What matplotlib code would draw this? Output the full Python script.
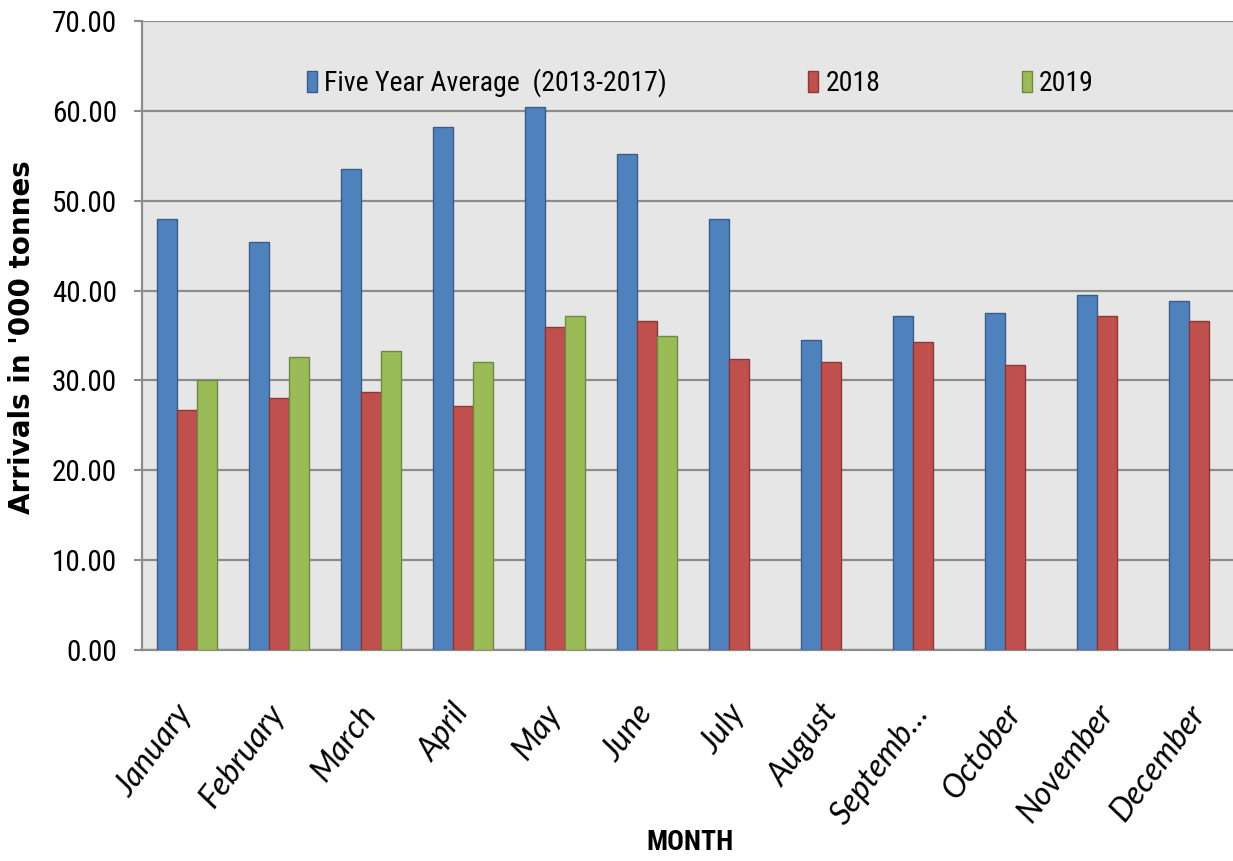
"""
Chegadas mensais (mil toneladas): media de cinco anos (2013-2017) contra 2018 e 2019.
Barras agrupadas no estilo Excel, fundo cinza, legenda no topo dentro do plot.
"""

import matplotlib
matplotlib.use("Agg")
import matplotlib.pyplot as plt
import numpy as np

# ----------------------------------------------------------------------------
# Dados
# ----------------------------------------------------------------------------
MESES = ["January", "February", "March", "April", "May", "June", "July",
         "August", "Septemb\u2026", "October", "November", "December"]

MEDIA_5_ANOS = [48.0, 45.35, 53.5, 58.15, 60.4, 55.2, 48.0, 34.5, 37.2, 37.5, 39.5, 38.8]
ANO_2018 = [26.75, 28.1, 28.7, 27.1, 35.9, 36.6, 32.4, 32.0, 34.3, 31.7, 37.2, 36.6]
ANO_2019 = [30.0, 32.65, 33.3, 32.0, 37.2, 34.9, None, None, None, None, None, None]

SERIES = [
    ("Five Year Average  (2013-2017)", MEDIA_5_ANOS, "#4f81bd", "#385d8a"),
    ("2018", ANO_2018, "#c0504d", "#8c3836"),
    ("2019", ANO_2019, "#9bbb59", "#71893f"),
]

Y_TICKS = [0, 10, 20, 30, 40, 50, 60, 70]

NARROW = ["Roboto Condensed", "DejaVu Sans"]
GRID_COLOR = "#8c8c8c"
W_PX, H_PX = 1233, 861


def main() -> None:
    fig = plt.figure(figsize=(W_PX / 100, H_PX / 100), dpi=100)
    fig.patch.set_facecolor("white")

    # area do plot: esquerda em 142 px, topo 21 px, base 650 px (cortada na direita)
    ax = fig.add_axes([142 / W_PX, 1 - 650 / H_PX, 1 - 142 / W_PX + 0.01, (650 - 21) / H_PX])
    ax.set_facecolor("#e6e6e6")

    x = np.arange(len(MESES), dtype=float)
    largura = 0.218
    offsets = [-largura, 0.0, largura]

    for (nome, valores, cor, borda), off in zip(SERIES, offsets):
        vals = np.array([np.nan if v is None else v for v in valores], dtype=float)
        ok = ~np.isnan(vals)
        ax.bar(x[ok] + off, vals[ok], width=largura, color=cor, edgecolor=borda,
               linewidth=1.0, label=nome, zorder=3)

    ax.set_xlim(-0.485, 11.5)
    ax.set_ylim(0, 70)

    ax.set_yticks(Y_TICKS)
    ax.set_yticklabels([f"{v:.2f}" for v in Y_TICKS], family=NARROW, fontsize=21)
    ax.tick_params(axis="y", length=6, width=1.5, color=GRID_COLOR, pad=12)

    ax.set_xticks(x)
    ax.set_xticklabels(MESES, rotation=53, ha="right", va="center",
                       rotation_mode="anchor", family=["Lato", "DejaVu Sans"],
                       style="italic", fontsize=23)
    ax.tick_params(axis="x", length=0, pad=42)

    ax.grid(axis="y", color=GRID_COLOR, linewidth=1.6, zorder=1)
    ax.set_axisbelow(True)

    for lado in ("top", "right"):
        ax.spines[lado].set_visible(False)
    for lado in ("left", "bottom"):
        ax.spines[lado].set_color(GRID_COLOR)
        ax.spines[lado].set_linewidth(1.6)

    fig.text(690 / W_PX, 1 - 843 / H_PX, "MONTH", ha="center", va="center",
             family=NARROW, fontweight="bold", fontsize=20)
    fig.text(22.5 / W_PX, 1 - 337 / H_PX, "Arrivals in '000 tonnes", rotation=90,
             ha="center", va="center", family="DejaVu Sans", fontweight="bold",
             fontsize=20)

    # legenda sem moldura, dentro do plot, no topo
    leg = ax.legend(loc="center left", bbox_to_anchor=(307 / W_PX, 1 - 83 / H_PX),
                    bbox_transform=fig.transFigure, ncol=3, frameon=False,
                    borderpad=0, borderaxespad=0, handlelength=0.36,
                    handleheight=0.8, handletextpad=0.25, columnspacing=5.1,
                    prop={"family": NARROW, "size": 20})
    leg.set_zorder(5)

    fig.savefig("out.png", dpi=100)
    plt.close(fig)


if __name__ == "__main__":
    main()
